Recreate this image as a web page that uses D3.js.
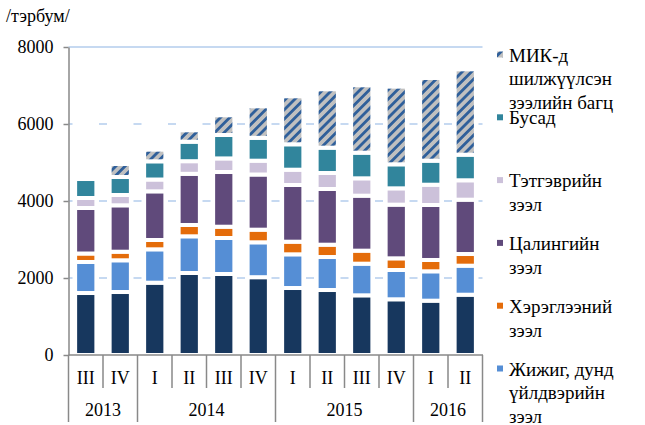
<!DOCTYPE html>
<html>
<head>
<meta charset="utf-8">
<script src="https://cdn.jsdelivr.net/npm/d3@7"></script>
<style>
  body { margin: 0; background: #fff; }
  svg text { font-family: "Liberation Serif", "Times New Roman", serif; fill: #000; }
</style>
</head>
<body>
<script>
// quarters and years on the x axis
var quarters = ["III", "IV", "I", "II", "III", "IV", "I", "II", "III", "IV", "I", "II"];
var years = ["2013", "2014", "2015", "2016"];
var yearSpan = [2, 4, 4, 2];
var yTicks = [0, 2000, 4000, 6000, 8000];

// series, bottom to top (тэрбум төгрөг)
var orontsuuts = [1610, 1636, 1878, 2130, 2104, 2021, 1740, 1688, 1550, 1447, 1411, 1566];
var jijigDund  = [806, 824, 867, 953, 935, 906, 875, 857, 822, 761, 763, 754];
var hereglee   = [220, 223, 242, 294, 293, 328, 328, 320, 338, 303, 294, 303];
var tsalin     = [1182, 1205, 1264, 1329, 1421, 1433, 1473, 1447, 1428, 1394, 1428, 1411];
var tetgever   = [260, 268, 307, 328, 353, 359, 397, 415, 451, 424, 527, 504];
var busad      = [493, 467, 473, 506, 608, 594, 660, 658, 666, 624, 624, 665];
var mik        = [0, 338, 302, 296, 512, 818, 1246, 1516, 1750, 2017, 2148, 2217];

var keys = ["orontsuuts", "jijig", "hereglee", "tsalin", "tetgever", "busad", "mik"];
var color = {orontsuuts: "#17375e", jijig: "#558ed5", hereglee: "#e46c0a", tsalin: "#604a7b",
             tetgever: "#ccc1da", busad: "#31859c", mik: "url(#hatch)"};

// legend, top to bottom (the first series falls off the picture)
var legendKeys = ["mik", "busad", "tetgever", "tsalin", "hereglee", "jijig"];
var legendLines = [
  ["МИК-д", "шилжүүлсэн", "зээлийн багц"],
  ["Бусад"],
  ["Тэтгэврийн", "зээл"],
  ["Цалингийн", "зээл"],
  ["Хэрэглээний", "зээл"],
  ["Жижиг, дунд", "үйлдвэрийн", "зээл"]
];

var table = quarters.map(function(q, i) {
  return {i: i, orontsuuts: orontsuuts[i], jijig: jijigDund[i], hereglee: hereglee[i],
          tsalin: tsalin[i], tetgever: tetgever[i], busad: busad[i], mik: mik[i]};
});

var width = 645, height = 425;
var font = "Liberation Serif, Times New Roman, serif";
var svg = d3.select("body").append("svg")
    .attr("width", width).attr("height", height)
    .attr("font-family", font);

// hatch for the МИК series
var pat = svg.append("defs").append("pattern")
    .attr("id", "hatch")
    .attr("patternUnits", "userSpaceOnUse")
    .attr("width", 6.6).attr("height", 6.6)
    .attr("patternTransform", "rotate(45)");
pat.append("rect").attr("width", 6.6).attr("height", 6.6).attr("fill", "#c0c0c0");
pat.append("rect").attr("width", 2.8).attr("height", 6.6).attr("fill", "#2f5f9a");

var x0 = 68.5, x1 = 482.5, yTop = 47, yBase = 355;
var x = d3.scaleBand().domain(d3.range(quarters.length)).range([x0, x1]).padding(0);
var y = d3.scaleLinear().domain([0, 8000]).range([yBase, yTop]);
var step = x.step();
var gapW = 4;              // white outline between segments
var barW = step * 0.5 + gapW;

// unit label
svg.append("text").attr("x", 6).attr("y", 22).style("font-size", "18px").text("/тэрбум/");

// gridlines, dashes sit in the gaps between bars
var grid = svg.append("g");
yTicks.filter(function(t) { return t > 0; }).forEach(function(t) {
  grid.append("line")
      .attr("x1", x0).attr("x2", x1)
      .attr("y1", y(t)).attr("y2", y(t))
      .attr("stroke", "#c6d9f1")
      .attr("stroke-width", 1.8)
      .attr("stroke-dasharray", t === 8000 ? null : "8," + (step - 8))
      .attr("stroke-dashoffset", t === 8000 ? null : 4);
});

// stacked bars
var series = d3.stack().keys(keys)(table);
svg.append("g").selectAll("g")
  .data(series)
  .enter().append("g")
    .attr("fill", function(d) { return color[d.key]; })
  .selectAll("rect")
  .data(function(d) { return d.filter(function(p) { return p[1] > p[0]; }); })
  .enter().append("rect")
    .attr("x", function(d) { return x(d.data.i) + (step - barW) / 2; })
    .attr("width", barW)
    .attr("y", function(d) { return y(d[1]); })
    .attr("height", function(d) { return y(d[0]) - y(d[1]); })
    .attr("stroke", "#fff")
    .attr("stroke-width", gapW);

// y axis
var yAxis = svg.append("g")
    .attr("transform", "translate(" + x0 + ",0)")
    .call(d3.axisLeft(y).tickValues(yTicks).tickSize(5).tickSizeOuter(0).tickPadding(10)
          .tickFormat(d3.format("d")));
yAxis.attr("font-family", font).attr("font-size", 18);
yAxis.select(".domain").attr("stroke", "#898989").attr("stroke-width", 1.5);
yAxis.selectAll(".tick line").attr("stroke", "#898989").attr("stroke-width", 1.5);
yAxis.selectAll("text").attr("fill", "#000");

// x axis line
svg.append("line")
    .attr("x1", x0).attr("x2", x1 + 0.5)
    .attr("y1", yBase).attr("y2", yBase)
    .attr("stroke", "#898989").attr("stroke-width", 1.5);

// category separators: short between quarters, long at year edges
var yearEdges = [0];
yearSpan.forEach(function(n) { yearEdges.push(yearEdges[yearEdges.length - 1] + n); });
d3.range(quarters.length + 1).forEach(function(i) {
  var long = yearEdges.indexOf(i) >= 0;
  var xx = i < quarters.length ? x(i) : x1;
  svg.append("line")
      .attr("x1", xx).attr("x2", xx)
      .attr("y1", yBase).attr("y2", long ? 422 : 388)
      .attr("stroke", "#898989").attr("stroke-width", 1.5);
});

// quarter labels
svg.append("g").selectAll("text")
  .data(quarters)
  .enter().append("text")
    .attr("x", function(d, i) { return x(i) + step / 2; })
    .attr("y", 384)
    .attr("text-anchor", "middle")
    .style("font-size", "18px")
    .text(function(d) { return d; });

// year labels
svg.append("g").selectAll("text")
  .data(years)
  .enter().append("text")
    .attr("x", function(d, i) {
      var a = x(yearEdges[i]), b = yearEdges[i + 1] < quarters.length ? x(yearEdges[i + 1]) : x1;
      return (a + b) / 2;
    })
    .attr("y", 416)
    .attr("text-anchor", "middle")
    .style("font-size", "18px")
    .text(function(d) { return d; });

// legend
var legend = svg.append("g");
legendKeys.forEach(function(k, i) {
  var cy = 55.5 + i * 62.8;
  legend.append("rect")
      .attr("x", 497).attr("y", cy - 4)
      .attr("width", 6).attr("height", 6)
      .attr("fill", color[k]);
  legendLines[i].forEach(function(line, j) {
    legend.append("text")
        .attr("x", 509)
        .attr("y", cy + 6 + j * 23.8)
        .style("font-size", "19px")
        .text(line);
  });
});
</script>
</body>
</html>
